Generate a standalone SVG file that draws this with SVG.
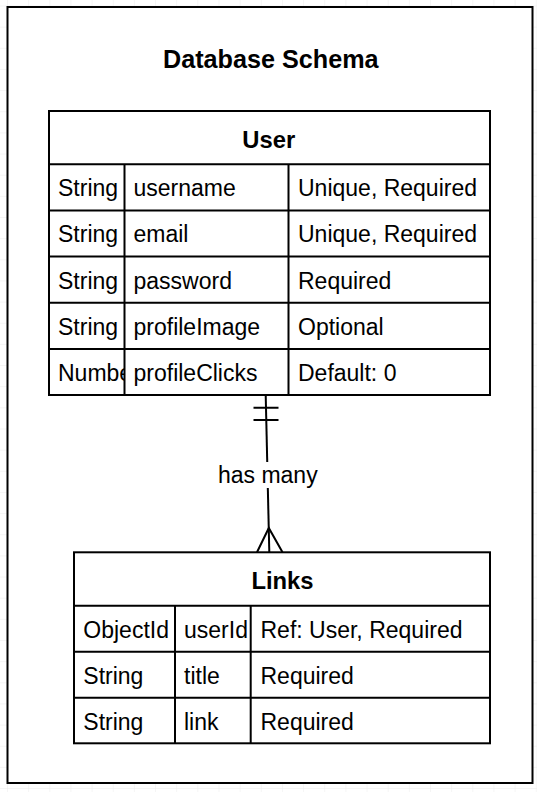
<svg xmlns="http://www.w3.org/2000/svg" width="537" height="792" viewBox="0 0 537 792">
<style>
.cell{fill:none;stroke:#000;stroke-width:2}
.t{font-family:"Liberation Sans",Arial,sans-serif;font-size:23px;fill:#000}
.h{font-family:"Liberation Sans",Arial,sans-serif;font-size:23.8px;font-weight:bold;fill:#000;text-anchor:middle}
.conn{fill:none;stroke:#000;stroke-width:2}
</style>
<defs>
<pattern id="grid" x="7" y="5.5" width="21.15" height="21.15" patternUnits="userSpaceOnUse">
<path d="M0 0H21.15M0 0V21.15" fill="none" stroke="#ececec" stroke-width="1"/>
</pattern>
<clipPath id="c1"><rect x="49" y="349" width="75" height="46"/></clipPath>
</defs>
<rect x="0" y="0" width="537" height="792" fill="#fff"/>
<rect x="0" y="0" width="537" height="792" fill="url(#grid)"/>
<g id="container">
<rect x="7.5" y="7" width="525" height="776" fill="#fff" stroke="#000" stroke-width="2"/>
<text x="270.8" y="67.5" class="h" style="font-size:25.2px">Database Schema</text>
</g>
<g id="user">
<rect x="49" y="111" width="441" height="284" fill="#fff" class="cell"/>
<text class="h" x="268.8" y="147.8">User</text>
<path class="cell" d="M49 164.2H490M49 210.4H490M49 256.6H490M49 302.8H490M49 349H490M124.5 164.2V395M288.5 164.2V395"/>
<text class="t" x="58" y="196.2">String</text>
<text class="t" x="133.5" y="196.2">username</text>
<text class="t" x="298" y="196.2">Unique, Required</text>
<text class="t" x="58" y="242.4">String</text>
<text class="t" x="133.5" y="242.4">email</text>
<text class="t" x="298" y="242.4">Unique, Required</text>
<text class="t" x="58" y="288.6">String</text>
<text class="t" x="133.5" y="288.6">password</text>
<text class="t" x="298" y="288.6">Required</text>
<text class="t" x="58" y="334.8">String</text>
<text class="t" x="133.5" y="334.8">profileImage</text>
<text class="t" x="298" y="334.8">Optional</text>
<text class="t" x="58" y="381" clip-path="url(#c1)">Number</text>
<text class="t" x="133.5" y="381">profileClicks</text>
<text class="t" x="298" y="381">Default: 0</text>
</g>
<g id="links">
<rect x="74" y="552.3" width="416" height="191" fill="#fff" class="cell"/>
<text class="h" x="282.5" y="588.5">Links</text>
<path class="cell" d="M74 605.7H490M74 651.7H490M74 697.7H490M175 605.7V743.3M250.7 605.7V743.3"/>
<text class="t" x="83.3" y="637.7">ObjectId</text>
<text class="t" x="184" y="637.7">userId</text>
<text class="t" x="260.5" y="637.7">Ref: User, Required</text>
<text class="t" x="83.3" y="683.7">String</text>
<text class="t" x="184" y="683.7">title</text>
<text class="t" x="260.5" y="683.7">Required</text>
<text class="t" x="83.3" y="729.7">String</text>
<text class="t" x="184" y="729.7">link</text>
<text class="t" x="260.5" y="729.7">Required</text>
</g>
<g id="connectors">
<path class="conn" d="M265.7 395L269.3 552"/>
<path class="conn" d="M253.5 407.7H278.5M253.5 420H278.5"/>
<path class="conn" d="M257 552.3L268.8 528L282.5 552.3"/>
<rect x="216" y="462" width="104" height="26" fill="#fff"/>
<text class="t" x="267.8" y="482.8" text-anchor="middle">has many</text>
</g>
</svg>
